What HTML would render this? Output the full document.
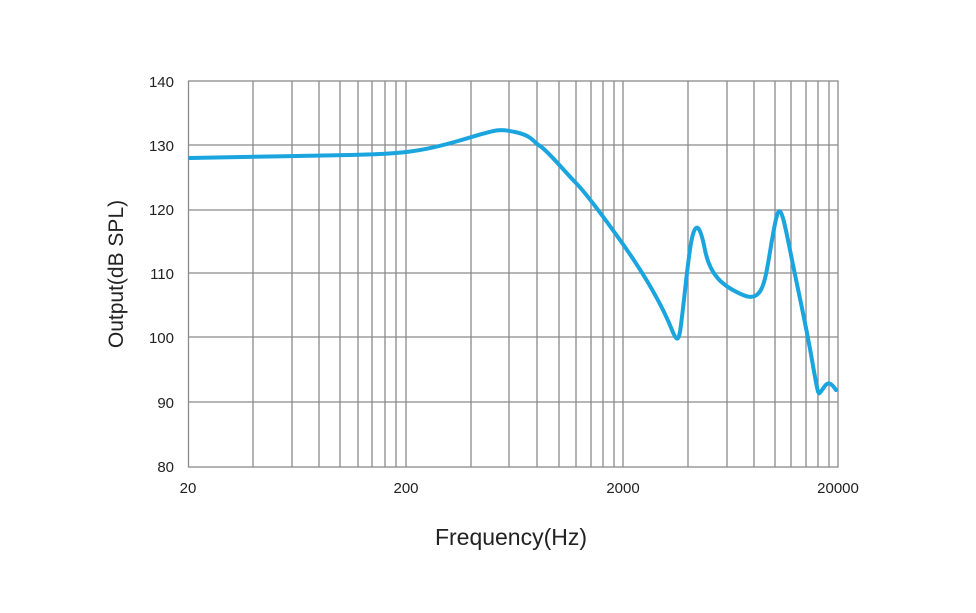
<!DOCTYPE html>
<html><head><style>body{margin:0;background:#fff}svg{display:block}</style></head><body>
<svg width="976" height="613" xmlns="http://www.w3.org/2000/svg" font-family="Liberation Sans, sans-serif">
<g stroke="#8a8a8a" stroke-width="1.3" fill="none">
<rect x="188.5" y="81" width="649.5" height="386"/>
<path d="M253 81V467M292 81V467M319 81V467M340 81V467M358 81V467M372 81V467M385 81V467M396 81V467M406 81V467
M471 81V467M509 81V467M537 81V467M559 81V467M576 81V467M591 81V467M603 81V467M614 81V467M623 81V467
M688 81V467M727 81V467M754 81V467M775 81V467M791 81V467M806 81V467M818 81V467M829 81V467
M188 145H838M188 210H838M188 273H838M188 337H838M188 402H838"/>
</g>
<path d="M190 158 C230 157 300 156 350 155 S420 152 458 141 S497 128 515 132 S532 141 540 146 S565 172 575 182 S600 212 620 240 S660 300 672 330 C676 340 678 342 680 332 C684 305 688 255 692 238 S700 225 705 250 S722 286 743 295 S765 280 772 240 S780 200 790 250 S805 320 812 360 S818 395 822 390 S828 378 836 390"
 fill="none" stroke="#1aa5de" stroke-width="4" stroke-linecap="round"/>
<g font-size="15" fill="#222" text-anchor="end">
<text x="174" y="87">140</text><text x="174" y="151">130</text><text x="174" y="215">120</text>
<text x="174" y="279">110</text><text x="174" y="343">100</text><text x="174" y="408">90</text><text x="174" y="472">80</text>
</g>
<g font-size="15" fill="#222" text-anchor="middle">
<text x="188" y="493">20</text><text x="406" y="493">200</text><text x="623" y="493">2000</text><text x="838" y="493">20000</text>
</g>
<text x="511" y="545" font-size="23" fill="#222" text-anchor="middle">Frequency(Hz)</text>
<text transform="translate(123,274) rotate(-90)" font-size="21" fill="#222" text-anchor="middle">Output(dB SPL)</text>
</svg>
</body></html>
